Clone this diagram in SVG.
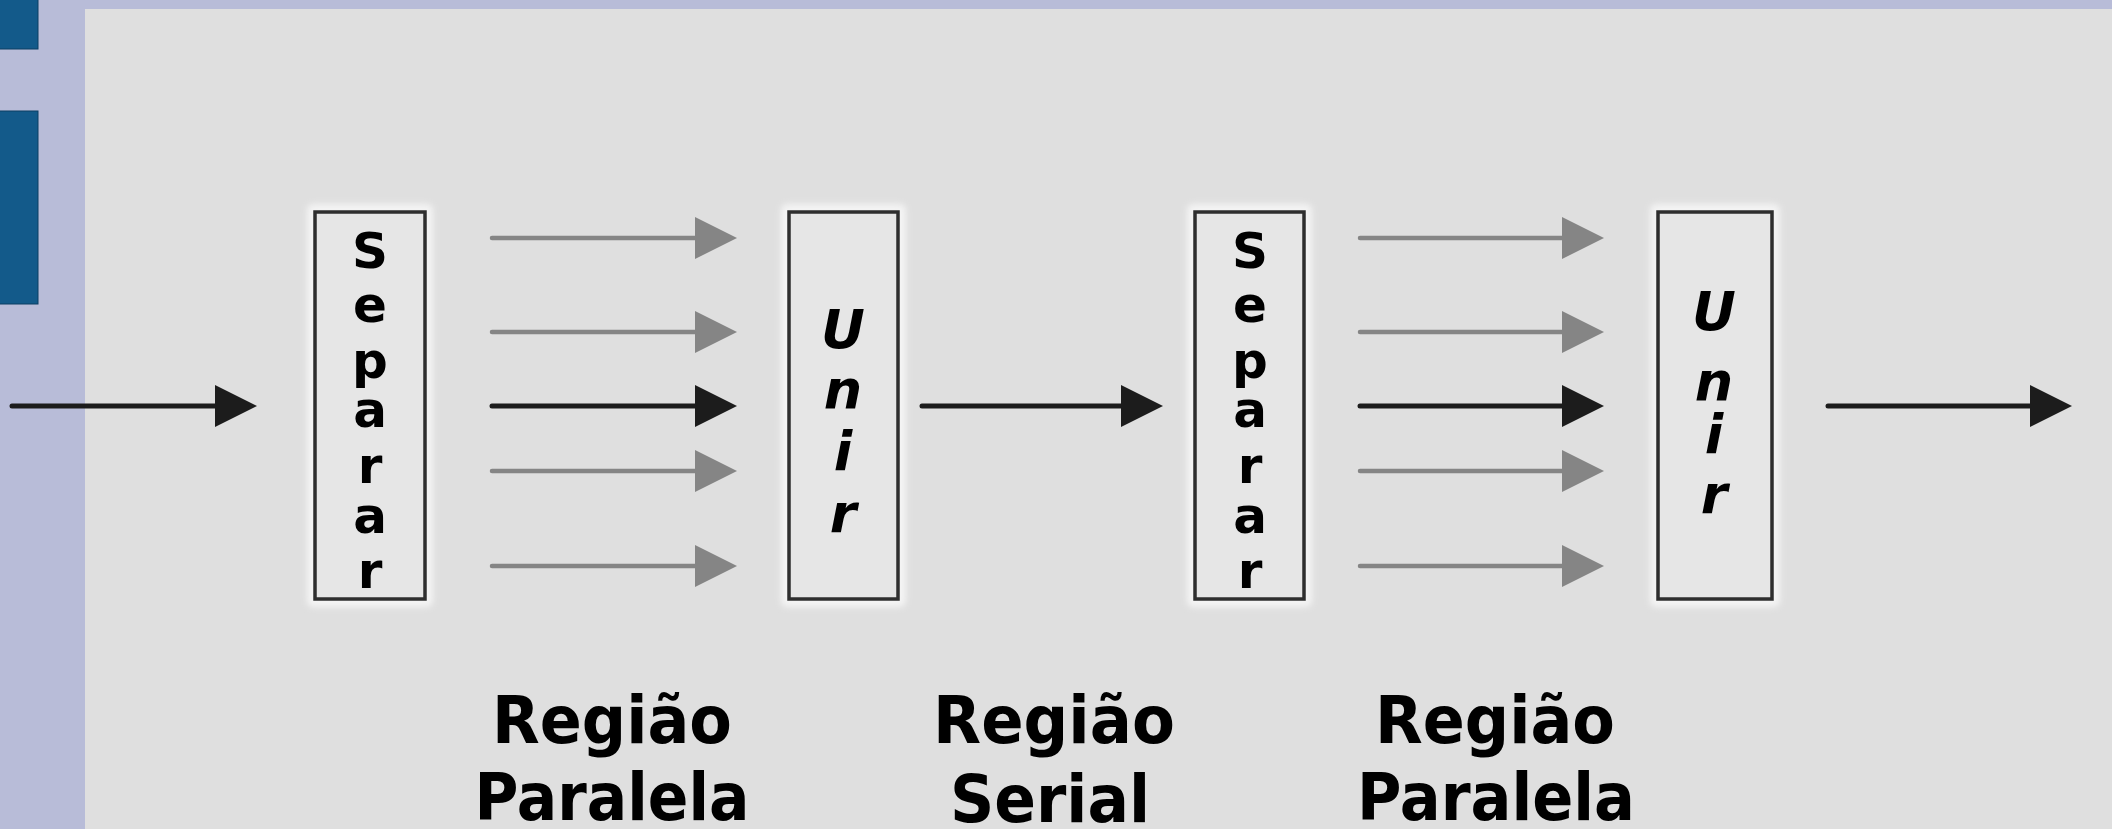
<svg xmlns="http://www.w3.org/2000/svg" width="2112" height="829" viewBox="0 0 2112 829">
  <style>
    .halo { fill: #f4f4f4; filter: url(#blur); }
    .box { fill: #e6e6e6; stroke: #2e2e2e; stroke-width: 3.5; }
    .sep { font-family: "DejaVu Sans", "Liberation Sans", sans-serif; font-weight: bold; font-size: 50px; fill: #000; text-anchor: middle; }
    .uni { font-family: "DejaVu Sans", "Liberation Sans", sans-serif; font-weight: bold; font-style: oblique; font-size: 54px; fill: #000; text-anchor: middle; }
    .lbl { font-family: "DejaVu Sans", "Liberation Sans", sans-serif; font-weight: bold; font-size: 65px; fill: #000; text-anchor: middle; }
    .gray { stroke: #858585; stroke-width: 4.5; stroke-linecap: round; fill: none; marker-end: url(#headGray); }
    .dark { stroke: #1c1c1c; stroke-width: 5; stroke-linecap: round; fill: none; marker-end: url(#headDark); }
  </style>
  <defs>
    <filter id="blur" x="-20%" y="-10%" width="140%" height="120%">
      <feGaussianBlur stdDeviation="3"/>
    </filter>
    <marker id="headGray" markerUnits="userSpaceOnUse" markerWidth="44" markerHeight="44" refX="12" refY="21" orient="auto">
      <path d="M0,0 L42,21 L0,42 Z" fill="#858585"/>
    </marker>
    <marker id="headDark" markerUnits="userSpaceOnUse" markerWidth="44" markerHeight="44" refX="12" refY="21" orient="auto">
      <path d="M0,0 L42,21 L0,42 Z" fill="#1c1c1c"/>
    </marker>
  </defs>

  <!-- background -->
  <rect x="0" y="0" width="2112" height="829" fill="#b8bcd8"/>
  <rect x="85" y="9" width="2027" height="820" fill="#dfdfdf"/>
  <rect x="-2" y="-2" width="40" height="51" fill="#135a8a" stroke="#0c3f63" stroke-width="1"/>
  <rect x="-2" y="111" width="40" height="193" fill="#135a8a" stroke="#0c3f63" stroke-width="1"/>

  <!-- connectors (line end = arrow tip - 30) -->
  <g id="connectors">
    <line class="dark" x1="12" y1="406" x2="227" y2="406"/>
    <line class="gray" x1="492" y1="238" x2="707" y2="238"/>
    <line class="gray" x1="492" y1="332" x2="707" y2="332"/>
    <line class="dark" x1="492" y1="406" x2="707" y2="406"/>
    <line class="gray" x1="492" y1="471" x2="707" y2="471"/>
    <line class="gray" x1="492" y1="566" x2="707" y2="566"/>
    <line class="dark" x1="922" y1="406" x2="1133" y2="406"/>
    <line class="gray" x1="1360" y1="238" x2="1574" y2="238"/>
    <line class="gray" x1="1360" y1="332" x2="1574" y2="332"/>
    <line class="dark" x1="1360" y1="406" x2="1574" y2="406"/>
    <line class="gray" x1="1360" y1="471" x2="1574" y2="471"/>
    <line class="gray" x1="1360" y1="566" x2="1574" y2="566"/>
    <line class="dark" x1="1828" y1="406" x2="2042" y2="406"/>
  </g>

  <!-- nodes -->
  <g id="separar1">
    <rect class="halo" x="307" y="204" width="126" height="403" rx="6"/>
    <rect class="box" x="315" y="212" width="110" height="387"/>
    <text class="sep" x="370" y="268">S</text>
    <text class="sep" x="370" y="322">e</text>
    <text class="sep" x="370" y="378">p</text>
    <text class="sep" x="370" y="427">a</text>
    <text class="sep" x="370" y="483">r</text>
    <text class="sep" x="370" y="533">a</text>
    <text class="sep" x="370" y="588">r</text>
  </g>

  <g id="unir1">
    <rect class="halo" x="781" y="204" width="125" height="403" rx="6"/>
    <rect class="box" x="789" y="212" width="109" height="387"/>
    <text class="uni" x="843" y="348">U</text>
    <text class="uni" x="843" y="408">n</text>
    <text class="uni" x="843" y="470">i</text>
    <text class="uni" x="843" y="532">r</text>
  </g>

  <g id="separar2">
    <rect class="halo" x="1187" y="204" width="125" height="403" rx="6"/>
    <rect class="box" x="1195" y="212" width="109" height="387"/>
    <text class="sep" x="1250" y="268">S</text>
    <text class="sep" x="1250" y="322">e</text>
    <text class="sep" x="1250" y="378">p</text>
    <text class="sep" x="1250" y="427">a</text>
    <text class="sep" x="1250" y="483">r</text>
    <text class="sep" x="1250" y="533">a</text>
    <text class="sep" x="1250" y="588">r</text>
  </g>

  <g id="unir2">
    <rect class="halo" x="1650" y="204" width="130" height="403" rx="6"/>
    <rect class="box" x="1658" y="212" width="114" height="387"/>
    <text class="uni" x="1714" y="330">U</text>
    <text class="uni" x="1714" y="400">n</text>
    <text class="uni" x="1714" y="453">i</text>
    <text class="uni" x="1714" y="513">r</text>
  </g>

  <g id="label-paralela1">
    <text class="lbl" x="612" y="743" textLength="240" lengthAdjust="spacingAndGlyphs">Região</text>
    <text class="lbl" x="612" y="820" textLength="275" lengthAdjust="spacingAndGlyphs">Paralela</text>
  </g>
  <g id="label-serial">
    <text class="lbl" x="1054" y="743" textLength="242" lengthAdjust="spacingAndGlyphs">Região</text>
    <text class="lbl" x="1050" y="822" textLength="200" lengthAdjust="spacingAndGlyphs">Serial</text>
  </g>
  <g id="label-paralela2">
    <text class="lbl" x="1495" y="743" textLength="240" lengthAdjust="spacingAndGlyphs">Região</text>
    <text class="lbl" x="1496" y="820" textLength="278" lengthAdjust="spacingAndGlyphs">Paralela</text>
  </g>
</svg>
